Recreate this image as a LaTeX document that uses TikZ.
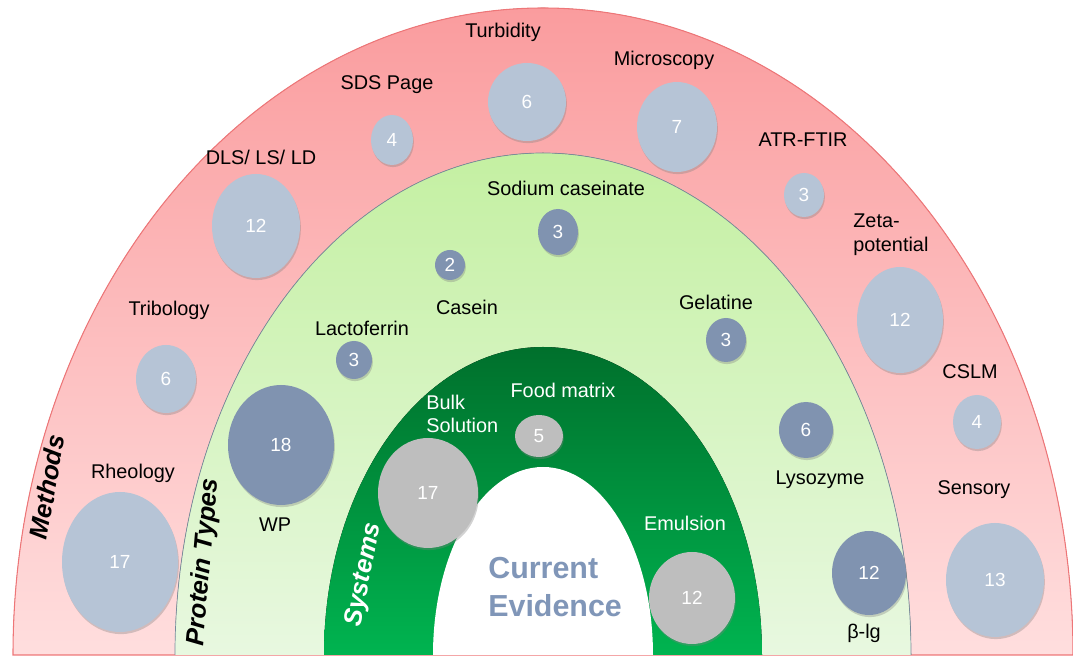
\documentclass[tikz,border=0pt]{standalone}
\usepackage{fontspec}
\setmainfont{Liberation Sans}
\usetikzlibrary{shapes.geometric,shadows}

\definecolor{methodtop}{RGB}{250,156,158}
\definecolor{methodbot}{RGB}{255,222,222}
\definecolor{methodline}{RGB}{238,118,120}
\definecolor{proteintop}{RGB}{196,240,162}
\definecolor{proteinbot}{RGB}{232,248,224}
\definecolor{proteinline}{RGB}{120,138,156}
\definecolor{systemtop}{RGB}{0,112,44}
\definecolor{systembot}{RGB}{0,180,80}
\definecolor{methodbub}{RGB}{182,196,214}
\definecolor{proteinbub}{RGB}{128,147,176}
\definecolor{systembub}{RGB}{190,190,190}
\definecolor{evidence}{RGB}{128,150,184}

\tikzset{
  bubble/.style 2 args={ellipse, inner sep=0pt, text=white,
    minimum width=#1*0.2mm, minimum height=#2*0.2mm,
    font=\fontsize{10.8}{12}\selectfont,
    drop shadow={shadow xshift=0.5pt, shadow yshift=-1.2pt, opacity=0.35}},
  tag/.style={inner sep=0pt, font=\fontsize{11.3}{13.5}\selectfont},
  ringtitle/.style={inner sep=0pt, font=\fontsize{14.5}{16}\selectfont\bfseries\itshape}
}

\begin{document}
\begin{tikzpicture}[x=0.2mm, y=0.2mm]
    \useasboundingbox (0,0) rectangle (1073,659);

    %Rings
    \fill[top color=methodtop, bottom color=methodbot] (13,4) arc[start angle=180, end angle=0, x radius=530, y radius=647] -- cycle;
    \draw[methodline, line width=0.6pt] (13,4) arc[start angle=180, end angle=0, x radius=530, y radius=647] -- cycle;
    \fill[top color=proteintop, bottom color=proteinbot] (175,4) arc[start angle=180, end angle=0, x radius=368, y radius=502] -- cycle;
    \draw[proteinline, line width=0.4pt] (175,4) arc[start angle=180, end angle=0, x radius=368, y radius=502];
    \fill[top color=systemtop, bottom color=systembot] (324,4) arc[start angle=180, end angle=0, x radius=219, y radius=308] -- cycle;
    \fill[white] (433,4) arc[start angle=180, end angle=0, x radius=110, y radius=188] -- cycle;

    %Ring titles
    \node[ringtitle, rotate=80] (methods) at (47,172) {Methods};
    \node[ringtitle, rotate=85] (proteins) at (204,97) {Protein Types};
    \node[ringtitle, rotate=79, text=white] (systems) at (364,84) {Systems};
    \node[anchor=west, align=left, inner sep=0pt, text=evidence,
          font=\fontsize{17.3}{22}\selectfont\bfseries] (evid) at (488,72) {Current\\Evidence};

    %Methods
    \node[bubble={116}{140}, fill=methodbub] (rheo) at (120,97) {17};
    \node[tag] (rheolab) at (133,186) {Rheology};
    \node[bubble={60}{68}, fill=methodbub] (trib) at (166,280) {6};
    \node[tag] (triblab) at (169,349) {Tribology};
    \node[bubble={88}{104}, fill=methodbub] (dls) at (256,433) {12};
    \node[tag] (dlslab) at (261,502) {DLS/ LS/ LD};
    \node[bubble={42}{50}, fill=methodbub] (sds) at (392,519) {4};
    \node[tag] (sdslab) at (387,574) {SDS Page};
    \node[bubble={78}{78}, fill=methodbub] (turb) at (527,557) {6};
    \node[tag] (turblab) at (503,627) {Turbidity};
    \node[bubble={80}{90}, fill=methodbub] (micro) at (677,532) {7};
    \node[tag] (microlab) at (664,599) {Microscopy};
    \node[bubble={40}{44}, fill=methodbub] (atr) at (804,464) {3};
    \node[tag] (atrlab) at (803,519) {ATR-FTIR};
    \node[bubble={86}{106}, fill=methodbub] (zeta) at (900,339) {12};
    \node[tag, anchor=west, align=left] (zetalab) at (853,424) {Zeta-\\potential};
    \node[bubble={48}{54}, fill=methodbub] (cslm) at (977,237) {4};
    \node[tag] (cslmlab) at (970,287) {CSLM};
    \node[bubble={98}{114}, fill=methodbub] (sens) at (995,79) {13};
    \node[tag] (senslab) at (974,169) {Sensory};

    %Protein types
    \node[bubble={106}{120}, fill=proteinbub] (wp) at (281,214) {18};
    \node[tag] (wplab) at (275,134) {WP};
    \node[bubble={36}{38}, fill=proteinbub] (lacto) at (354,299) {3};
    \node[tag] (lactolab) at (362,331) {Lactoferrin};
    \node[bubble={30}{30}, fill=proteinbub] (casein) at (450,394) {2};
    \node[tag] (caseinlab) at (467,352) {Casein};
    \node[bubble={40}{46}, fill=proteinbub] (sodcas) at (558,427) {3};
    \node[tag] (sodcaslab) at (566,471) {Sodium caseinate};
    \node[bubble={40}{44}, fill=proteinbub] (gelat) at (726,319) {3};
    \node[tag] (gelatlab) at (716,357) {Gelatine};
    \node[bubble={54}{56}, fill=proteinbub] (lyso) at (806,229) {6};
    \node[tag] (lysolab) at (820,179) {Lysozyme};
    \node[bubble={74}{84}, fill=proteinbub] (blg) at (869,86) {12};
    \node[tag] (blglab) at (864,26) {β-lg};

    %Systems
    \node[bubble={100}{110}, fill=systembub] (bulk) at (428,166) {17};
    \node[tag, anchor=west, align=left, text=white] (bulklab) at (426,245) {Bulk\\Solution};
    \node[bubble={48}{42}, fill=systembub] (food) at (539,223) {5};
    \node[tag, text=white] (foodlab) at (563,269) {Food matrix};
    \node[bubble={86}{92}, fill=systembub] (emul) at (692,61) {12};
    \node[tag, text=white] (emullab) at (685,136) {Emulsion};

\end{tikzpicture}
\end{document}
